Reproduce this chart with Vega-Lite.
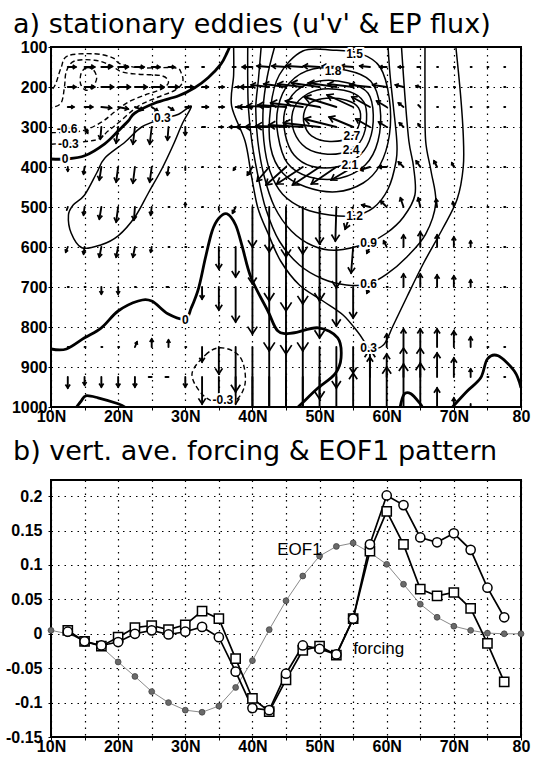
{
"$schema":"https://vega.github.io/schema/vega-lite/v6.json",
"background":"white",
"padding":{"left":4,"top":10,"right":5,"bottom":5},
"spacing":12,
"config":{
 "view":{"stroke":"black","strokeWidth":2},
 "axis":{"labelFont":"Liberation Sans","labelFontWeight":"bold","labelFontSize":16,"labelColor":"black","domain":false,"tickColor":"black","tickSize":3,"grid":true,"gridColor":"black","gridDash":[1.5,5],"gridWidth":1.2,"gridOpacity":1,"labelOverlap":false,"labelFlush":false,"labelSeparation":0,"tickCount":40},
 "title":{"font":"DejaVu Sans","fontSize":27,"fontWeight":"normal","anchor":"start","color":"black","frame":"group"}
},
"datasets":{
 "cont":[
{"id":"z1","lvl":0,"cl":0,"i":0,"lat":10,"p":380},{"id":"z1","lvl":0,"cl":0,"i":1,"lat":12.2,"p":380},{"id":"z1","lvl":0,"cl":0,"i":2,"lat":15,"p":372},{"id":"z1","lvl":0,"cl":0,"i":3,"lat":18,"p":342},{"id":"z1","lvl":0,"cl":0,"i":4,"lat":20,"p":310},{"id":"z1","lvl":0,"cl":0,"i":5,"lat":21.5,"p":285},{"id":"z1","lvl":0,"cl":0,"i":6,"lat":22.5,"p":265},{"id":"z1","lvl":0,"cl":0,"i":7,"lat":25.5,"p":240},{"id":"z1","lvl":0,"cl":0,"i":8,"lat":29,"p":222},{"id":"z1","lvl":0,"cl":0,"i":9,"lat":31.4,"p":202},{"id":"z1","lvl":0,"cl":0,"i":10,"lat":33.4,"p":177},{"id":"z1","lvl":0,"cl":0,"i":11,"lat":35.3,"p":143},{"id":"z1","lvl":0,"cl":0,"i":12,"lat":36.2,"p":115},{"id":"z1","lvl":0,"cl":0,"i":13,"lat":36.6,"p":100},
{"id":"z2","lvl":0,"cl":0,"i":0,"lat":10,"p":855},{"id":"z2","lvl":0,"cl":0,"i":1,"lat":12.3,"p":855},{"id":"z2","lvl":0,"cl":0,"i":2,"lat":15,"p":827},{"id":"z2","lvl":0,"cl":0,"i":3,"lat":17.5,"p":802},{"id":"z2","lvl":0,"cl":0,"i":4,"lat":20,"p":760},{"id":"z2","lvl":0,"cl":0,"i":5,"lat":23,"p":735},{"id":"z2","lvl":0,"cl":0,"i":6,"lat":25,"p":735},{"id":"z2","lvl":0,"cl":0,"i":7,"lat":27.4,"p":767},{"id":"z2","lvl":0,"cl":0,"i":8,"lat":30,"p":780},{"id":"z2","lvl":0,"cl":0,"i":9,"lat":30.9,"p":752},{"id":"z2","lvl":0,"cl":0,"i":10,"lat":32,"p":702},{"id":"z2","lvl":0,"cl":0,"i":11,"lat":33,"p":627},{"id":"z2","lvl":0,"cl":0,"i":12,"lat":34,"p":560},{"id":"z2","lvl":0,"cl":0,"i":13,"lat":35,"p":528},{"id":"z2","lvl":0,"cl":0,"i":14,"lat":36.2,"p":517},{"id":"z2","lvl":0,"cl":0,"i":15,"lat":37.5,"p":545},{"id":"z2","lvl":0,"cl":0,"i":16,"lat":38.5,"p":600},{"id":"z2","lvl":0,"cl":0,"i":17,"lat":39.8,"p":677},{"id":"z2","lvl":0,"cl":0,"i":18,"lat":42.3,"p":760},{"id":"z2","lvl":0,"cl":0,"i":19,"lat":43.8,"p":810},{"id":"z2","lvl":0,"cl":0,"i":20,"lat":46,"p":815},{"id":"z2","lvl":0,"cl":0,"i":21,"lat":49.8,"p":802},{"id":"z2","lvl":0,"cl":0,"i":22,"lat":52.7,"p":827},{"id":"z2","lvl":0,"cl":0,"i":23,"lat":53.2,"p":877},{"id":"z2","lvl":0,"cl":0,"i":24,"lat":52.3,"p":917},{"id":"z2","lvl":0,"cl":0,"i":25,"lat":49.8,"p":952},{"id":"z2","lvl":0,"cl":0,"i":26,"lat":47.3,"p":992},{"id":"z2","lvl":0,"cl":0,"i":27,"lat":46.8,"p":1000},
{"id":"z3","lvl":0,"cl":0,"i":0,"lat":13.8,"p":1000},{"id":"z3","lvl":0,"cl":0,"i":1,"lat":14.5,"p":985},{"id":"z3","lvl":0,"cl":0,"i":2,"lat":15.2,"p":972},{"id":"z3","lvl":0,"cl":0,"i":3,"lat":17,"p":977},{"id":"z3","lvl":0,"cl":0,"i":4,"lat":20,"p":992},{"id":"z3","lvl":0,"cl":0,"i":5,"lat":21,"p":1000},
{"id":"z4","lvl":0,"cl":0,"i":0,"lat":69.8,"p":1000},{"id":"z4","lvl":0,"cl":0,"i":1,"lat":72,"p":960},{"id":"z4","lvl":0,"cl":0,"i":2,"lat":74,"p":927},{"id":"z4","lvl":0,"cl":0,"i":3,"lat":75,"p":880},{"id":"z4","lvl":0,"cl":0,"i":4,"lat":76.6,"p":872},{"id":"z4","lvl":0,"cl":0,"i":5,"lat":79,"p":910},{"id":"z4","lvl":0,"cl":0,"i":6,"lat":80,"p":952},
{"id":"z5","lvl":0,"cl":0,"i":0,"lat":62,"p":1000},{"id":"z5","lvl":0,"cl":0,"i":1,"lat":62.6,"p":968},{"id":"z5","lvl":0,"cl":0,"i":2,"lat":63.6,"p":967},{"id":"z5","lvl":0,"cl":0,"i":3,"lat":65,"p":992},{"id":"z5","lvl":0,"cl":0,"i":4,"lat":65.3,"p":1000},
{"id":"n03","lvl":-0.3,"cl":0,"i":0,"lat":10,"p":343},{"id":"n03","lvl":-0.3,"cl":0,"i":1,"lat":16.5,"p":333},{"id":"n03","lvl":-0.3,"cl":0,"i":2,"lat":18.5,"p":310},{"id":"n03","lvl":-0.3,"cl":0,"i":3,"lat":20,"p":290},{"id":"n03","lvl":-0.3,"cl":0,"i":4,"lat":23,"p":248},{"id":"n03","lvl":-0.3,"cl":0,"i":5,"lat":26,"p":225},{"id":"n03","lvl":-0.3,"cl":0,"i":6,"lat":28.5,"p":208},{"id":"n03","lvl":-0.3,"cl":0,"i":7,"lat":29.6,"p":188},{"id":"n03","lvl":-0.3,"cl":0,"i":8,"lat":29.4,"p":165},{"id":"n03","lvl":-0.3,"cl":0,"i":9,"lat":28.4,"p":152},{"id":"n03","lvl":-0.3,"cl":0,"i":10,"lat":23.4,"p":152},{"id":"n03","lvl":-0.3,"cl":0,"i":11,"lat":20.3,"p":142},{"id":"n03","lvl":-0.3,"cl":0,"i":12,"lat":19.2,"p":127},{"id":"n03","lvl":-0.3,"cl":0,"i":13,"lat":16.5,"p":117},{"id":"n03","lvl":-0.3,"cl":0,"i":14,"lat":12.5,"p":122},{"id":"n03","lvl":-0.3,"cl":0,"i":15,"lat":11.5,"p":152},{"id":"n03","lvl":-0.3,"cl":0,"i":16,"lat":10.7,"p":192},{"id":"n03","lvl":-0.3,"cl":0,"i":17,"lat":10,"p":210},
{"id":"n06","lvl":-0.6,"cl":0,"i":0,"lat":10,"p":314},{"id":"n06","lvl":-0.6,"cl":0,"i":1,"lat":14.5,"p":310},{"id":"n06","lvl":-0.6,"cl":0,"i":2,"lat":17.5,"p":288},{"id":"n06","lvl":-0.6,"cl":0,"i":3,"lat":19.5,"p":262},{"id":"n06","lvl":-0.6,"cl":0,"i":4,"lat":21.5,"p":238},{"id":"n06","lvl":-0.6,"cl":0,"i":5,"lat":24,"p":220},{"id":"n06","lvl":-0.6,"cl":0,"i":6,"lat":26.5,"p":205},{"id":"n06","lvl":-0.6,"cl":0,"i":7,"lat":27.5,"p":188},{"id":"n06","lvl":-0.6,"cl":0,"i":8,"lat":26.5,"p":172},{"id":"n06","lvl":-0.6,"cl":0,"i":9,"lat":23,"p":168},{"id":"n06","lvl":-0.6,"cl":0,"i":10,"lat":20.5,"p":162},{"id":"n06","lvl":-0.6,"cl":0,"i":11,"lat":18.8,"p":145},{"id":"n06","lvl":-0.6,"cl":0,"i":12,"lat":16.5,"p":133},{"id":"n06","lvl":-0.6,"cl":0,"i":13,"lat":13.5,"p":135},{"id":"n06","lvl":-0.6,"cl":0,"i":14,"lat":12.3,"p":160},{"id":"n06","lvl":-0.6,"cl":0,"i":15,"lat":12,"p":200},{"id":"n06","lvl":-0.6,"cl":0,"i":16,"lat":11.5,"p":240},{"id":"n06","lvl":-0.6,"cl":0,"i":17,"lat":10,"p":252},
{"id":"n09","lvl":-0.9,"cl":1,"i":0,"lat":14.5,"p":165},{"id":"n09","lvl":-0.9,"cl":1,"i":1,"lat":15.3,"p":152},{"id":"n09","lvl":-0.9,"cl":1,"i":2,"lat":16.3,"p":157},{"id":"n09","lvl":-0.9,"cl":1,"i":3,"lat":16.8,"p":178},{"id":"n09","lvl":-0.9,"cl":1,"i":4,"lat":16.2,"p":200},{"id":"n09","lvl":-0.9,"cl":1,"i":5,"lat":15.2,"p":208},{"id":"n09","lvl":-0.9,"cl":1,"i":6,"lat":14.4,"p":192},
{"id":"n03b","lvl":-0.3,"cl":1,"i":0,"lat":31,"p":917},{"id":"n03b","lvl":-0.3,"cl":1,"i":1,"lat":33,"p":870},{"id":"n03b","lvl":-0.3,"cl":1,"i":2,"lat":35,"p":852},{"id":"n03b","lvl":-0.3,"cl":1,"i":3,"lat":37.3,"p":862},{"id":"n03b","lvl":-0.3,"cl":1,"i":4,"lat":38.6,"p":890},{"id":"n03b","lvl":-0.3,"cl":1,"i":5,"lat":38.9,"p":942},{"id":"n03b","lvl":-0.3,"cl":1,"i":6,"lat":37.6,"p":982},{"id":"n03b","lvl":-0.3,"cl":1,"i":7,"lat":35,"p":990},{"id":"n03b","lvl":-0.3,"cl":1,"i":8,"lat":32.5,"p":968},
{"id":"p03L","lvl":0.3,"cl":1,"i":0,"lat":30.9,"p":248},{"id":"p03L","lvl":0.3,"cl":1,"i":1,"lat":29.6,"p":290},{"id":"p03L","lvl":0.3,"cl":1,"i":2,"lat":28.2,"p":345},{"id":"p03L","lvl":0.3,"cl":1,"i":3,"lat":26.5,"p":405},{"id":"p03L","lvl":0.3,"cl":1,"i":4,"lat":24.5,"p":465},{"id":"p03L","lvl":0.3,"cl":1,"i":5,"lat":22.5,"p":525},{"id":"p03L","lvl":0.3,"cl":1,"i":6,"lat":20,"p":572},{"id":"p03L","lvl":0.3,"cl":1,"i":7,"lat":17.4,"p":595},{"id":"p03L","lvl":0.3,"cl":1,"i":8,"lat":14.6,"p":602},{"id":"p03L","lvl":0.3,"cl":1,"i":9,"lat":13,"p":565},{"id":"p03L","lvl":0.3,"cl":1,"i":10,"lat":12.6,"p":520},{"id":"p03L","lvl":0.3,"cl":1,"i":11,"lat":13.3,"p":495},{"id":"p03L","lvl":0.3,"cl":1,"i":12,"lat":15,"p":470},{"id":"p03L","lvl":0.3,"cl":1,"i":13,"lat":16.8,"p":415},{"id":"p03L","lvl":0.3,"cl":1,"i":14,"lat":18,"p":378},{"id":"p03L","lvl":0.3,"cl":1,"i":15,"lat":21,"p":338},{"id":"p03L","lvl":0.3,"cl":1,"i":16,"lat":23.5,"p":300},{"id":"p03L","lvl":0.3,"cl":1,"i":17,"lat":26.5,"p":280},{"id":"p03L","lvl":0.3,"cl":1,"i":18,"lat":29,"p":268},
{"id":"p03","lvl":0.3,"cl":0,"i":0,"lat":37.2,"p":100},{"id":"p03","lvl":0.3,"cl":0,"i":1,"lat":37.2,"p":170},{"id":"p03","lvl":0.3,"cl":0,"i":2,"lat":36.9,"p":247},{"id":"p03","lvl":0.3,"cl":0,"i":3,"lat":38.9,"p":335},{"id":"p03","lvl":0.3,"cl":0,"i":4,"lat":39.8,"p":417},{"id":"p03","lvl":0.3,"cl":0,"i":5,"lat":40.8,"p":502},{"id":"p03","lvl":0.3,"cl":0,"i":6,"lat":42.3,"p":565},{"id":"p03","lvl":0.3,"cl":0,"i":7,"lat":44.2,"p":635},{"id":"p03","lvl":0.3,"cl":0,"i":8,"lat":47,"p":695},{"id":"p03","lvl":0.3,"cl":0,"i":9,"lat":50.5,"p":735},{"id":"p03","lvl":0.3,"cl":0,"i":10,"lat":53.5,"p":770},{"id":"p03","lvl":0.3,"cl":0,"i":11,"lat":55.8,"p":815},{"id":"p03","lvl":0.3,"cl":0,"i":12,"lat":57.5,"p":852},{"id":"p03","lvl":0.3,"cl":0,"i":13,"lat":59.5,"p":845},{"id":"p03","lvl":0.3,"cl":0,"i":14,"lat":61,"p":795},{"id":"p03","lvl":0.3,"cl":0,"i":15,"lat":63,"p":725},{"id":"p03","lvl":0.3,"cl":0,"i":16,"lat":65.5,"p":640},{"id":"p03","lvl":0.3,"cl":0,"i":17,"lat":68.3,"p":555},{"id":"p03","lvl":0.3,"cl":0,"i":18,"lat":70.5,"p":480},{"id":"p03","lvl":0.3,"cl":0,"i":19,"lat":71.4,"p":400},{"id":"p03","lvl":0.3,"cl":0,"i":20,"lat":71.4,"p":320},{"id":"p03","lvl":0.3,"cl":0,"i":21,"lat":71,"p":220},{"id":"p03","lvl":0.3,"cl":0,"i":22,"lat":70.3,"p":100},
{"id":"p06","lvl":0.6,"cl":0,"i":0,"lat":39.3,"p":100},{"id":"p06","lvl":0.6,"cl":0,"i":1,"lat":39.3,"p":180},{"id":"p06","lvl":0.6,"cl":0,"i":2,"lat":39.4,"p":252},{"id":"p06","lvl":0.6,"cl":0,"i":3,"lat":39.9,"p":335},{"id":"p06","lvl":0.6,"cl":0,"i":4,"lat":40.8,"p":420},{"id":"p06","lvl":0.6,"cl":0,"i":5,"lat":42,"p":505},{"id":"p06","lvl":0.6,"cl":0,"i":6,"lat":44,"p":585},{"id":"p06","lvl":0.6,"cl":0,"i":7,"lat":47,"p":645},{"id":"p06","lvl":0.6,"cl":0,"i":8,"lat":50.5,"p":680},{"id":"p06","lvl":0.6,"cl":0,"i":9,"lat":54,"p":695},{"id":"p06","lvl":0.6,"cl":0,"i":10,"lat":57.2,"p":693},{"id":"p06","lvl":0.6,"cl":0,"i":11,"lat":60,"p":668},{"id":"p06","lvl":0.6,"cl":0,"i":12,"lat":63,"p":625},{"id":"p06","lvl":0.6,"cl":0,"i":13,"lat":65.8,"p":568},{"id":"p06","lvl":0.6,"cl":0,"i":14,"lat":67.3,"p":490},{"id":"p06","lvl":0.6,"cl":0,"i":15,"lat":66.6,"p":410},{"id":"p06","lvl":0.6,"cl":0,"i":16,"lat":65.8,"p":335},{"id":"p06","lvl":0.6,"cl":0,"i":17,"lat":65.7,"p":220},{"id":"p06","lvl":0.6,"cl":0,"i":18,"lat":65.7,"p":100},
{"id":"p09","lvl":0.9,"cl":0,"i":0,"lat":41.3,"p":100},{"id":"p09","lvl":0.9,"cl":0,"i":1,"lat":40.9,"p":180},{"id":"p09","lvl":0.9,"cl":0,"i":2,"lat":40.5,"p":252},{"id":"p09","lvl":0.9,"cl":0,"i":3,"lat":40.8,"p":335},{"id":"p09","lvl":0.9,"cl":0,"i":4,"lat":41.7,"p":420},{"id":"p09","lvl":0.9,"cl":0,"i":5,"lat":43.3,"p":500},{"id":"p09","lvl":0.9,"cl":0,"i":6,"lat":45.8,"p":560},{"id":"p09","lvl":0.9,"cl":0,"i":7,"lat":49,"p":597},{"id":"p09","lvl":0.9,"cl":0,"i":8,"lat":52.5,"p":608},{"id":"p09","lvl":0.9,"cl":0,"i":9,"lat":57.2,"p":590},{"id":"p09","lvl":0.9,"cl":0,"i":10,"lat":60,"p":565},{"id":"p09","lvl":0.9,"cl":0,"i":11,"lat":62.5,"p":525},{"id":"p09","lvl":0.9,"cl":0,"i":12,"lat":64.2,"p":470},{"id":"p09","lvl":0.9,"cl":0,"i":13,"lat":64,"p":400},{"id":"p09","lvl":0.9,"cl":0,"i":14,"lat":63.3,"p":335},{"id":"p09","lvl":0.9,"cl":0,"i":15,"lat":62.7,"p":220},{"id":"p09","lvl":0.9,"cl":0,"i":16,"lat":62.2,"p":100},
{"id":"p12","lvl":1.2,"cl":0,"i":0,"lat":43.3,"p":100},{"id":"p12","lvl":1.2,"cl":0,"i":1,"lat":42.2,"p":175},{"id":"p12","lvl":1.2,"cl":0,"i":2,"lat":41.6,"p":252},{"id":"p12","lvl":1.2,"cl":0,"i":3,"lat":41.7,"p":335},{"id":"p12","lvl":1.2,"cl":0,"i":4,"lat":42.6,"p":410},{"id":"p12","lvl":1.2,"cl":0,"i":5,"lat":44.5,"p":468},{"id":"p12","lvl":1.2,"cl":0,"i":6,"lat":47.8,"p":505},{"id":"p12","lvl":1.2,"cl":0,"i":7,"lat":51.5,"p":520},{"id":"p12","lvl":1.2,"cl":0,"i":8,"lat":55,"p":522},{"id":"p12","lvl":1.2,"cl":0,"i":9,"lat":58,"p":502},{"id":"p12","lvl":1.2,"cl":0,"i":10,"lat":60.2,"p":455},{"id":"p12","lvl":1.2,"cl":0,"i":11,"lat":61.4,"p":385},{"id":"p12","lvl":1.2,"cl":0,"i":12,"lat":61.5,"p":335},{"id":"p12","lvl":1.2,"cl":0,"i":13,"lat":61,"p":250},{"id":"p12","lvl":1.2,"cl":0,"i":14,"lat":60.5,"p":170},{"id":"p12","lvl":1.2,"cl":0,"i":15,"lat":60.2,"p":100},
{"id":"p15","lvl":1.5,"cl":1,"i":0,"lat":47.5,"p":110},{"id":"p15","lvl":1.5,"cl":1,"i":1,"lat":52,"p":108},{"id":"p15","lvl":1.5,"cl":1,"i":2,"lat":56,"p":116},{"id":"p15","lvl":1.5,"cl":1,"i":3,"lat":59,"p":150},{"id":"p15","lvl":1.5,"cl":1,"i":4,"lat":60.4,"p":230},{"id":"p15","lvl":1.5,"cl":1,"i":5,"lat":60.4,"p":320},{"id":"p15","lvl":1.5,"cl":1,"i":6,"lat":59,"p":395},{"id":"p15","lvl":1.5,"cl":1,"i":7,"lat":56.5,"p":440},{"id":"p15","lvl":1.5,"cl":1,"i":8,"lat":52.5,"p":462},{"id":"p15","lvl":1.5,"cl":1,"i":9,"lat":48,"p":450},{"id":"p15","lvl":1.5,"cl":1,"i":10,"lat":44.5,"p":415},{"id":"p15","lvl":1.5,"cl":1,"i":11,"lat":42.7,"p":350},{"id":"p15","lvl":1.5,"cl":1,"i":12,"lat":42.7,"p":252},{"id":"p15","lvl":1.5,"cl":1,"i":13,"lat":44,"p":170},
{"id":"p18","lvl":1.8,"cl":1,"i":0,"lat":49,"p":155},{"id":"p18","lvl":1.8,"cl":1,"i":1,"lat":54,"p":158},{"id":"p18","lvl":1.8,"cl":1,"i":2,"lat":57.6,"p":185},{"id":"p18","lvl":1.8,"cl":1,"i":3,"lat":59,"p":250},{"id":"p18","lvl":1.8,"cl":1,"i":4,"lat":58.7,"p":335},{"id":"p18","lvl":1.8,"cl":1,"i":5,"lat":56.8,"p":395},{"id":"p18","lvl":1.8,"cl":1,"i":6,"lat":53,"p":428},{"id":"p18","lvl":1.8,"cl":1,"i":7,"lat":48.5,"p":425},{"id":"p18","lvl":1.8,"cl":1,"i":8,"lat":45.2,"p":390},{"id":"p18","lvl":1.8,"cl":1,"i":9,"lat":43.8,"p":320},{"id":"p18","lvl":1.8,"cl":1,"i":10,"lat":43.8,"p":252},{"id":"p18","lvl":1.8,"cl":1,"i":11,"lat":45.5,"p":190},
{"id":"p21","lvl":2.1,"cl":1,"i":0,"lat":50,"p":185},{"id":"p21","lvl":2.1,"cl":1,"i":1,"lat":54.3,"p":190},{"id":"p21","lvl":2.1,"cl":1,"i":2,"lat":57.2,"p":215},{"id":"p21","lvl":2.1,"cl":1,"i":3,"lat":58,"p":270},{"id":"p21","lvl":2.1,"cl":1,"i":4,"lat":57.4,"p":335},{"id":"p21","lvl":2.1,"cl":1,"i":5,"lat":55.5,"p":378},{"id":"p21","lvl":2.1,"cl":1,"i":6,"lat":52.5,"p":400},{"id":"p21","lvl":2.1,"cl":1,"i":7,"lat":48.8,"p":398},{"id":"p21","lvl":2.1,"cl":1,"i":8,"lat":46.2,"p":370},{"id":"p21","lvl":2.1,"cl":1,"i":9,"lat":44.9,"p":320},{"id":"p21","lvl":2.1,"cl":1,"i":10,"lat":44.8,"p":262},{"id":"p21","lvl":2.1,"cl":1,"i":11,"lat":46.5,"p":210},
{"id":"p24","lvl":2.4,"cl":1,"i":0,"lat":50.5,"p":205},{"id":"p24","lvl":2.4,"cl":1,"i":1,"lat":54.5,"p":212},{"id":"p24","lvl":2.4,"cl":1,"i":2,"lat":56.6,"p":238},{"id":"p24","lvl":2.4,"cl":1,"i":3,"lat":57,"p":282},{"id":"p24","lvl":2.4,"cl":1,"i":4,"lat":56.3,"p":330},{"id":"p24","lvl":2.4,"cl":1,"i":5,"lat":54.6,"p":358},{"id":"p24","lvl":2.4,"cl":1,"i":6,"lat":51.2,"p":368},{"id":"p24","lvl":2.4,"cl":1,"i":7,"lat":48,"p":352},{"id":"p24","lvl":2.4,"cl":1,"i":8,"lat":46.2,"p":312},{"id":"p24","lvl":2.4,"cl":1,"i":9,"lat":46,"p":262},{"id":"p24","lvl":2.4,"cl":1,"i":10,"lat":47.5,"p":225},
{"id":"p27","lvl":2.7,"cl":1,"i":0,"lat":51,"p":228},{"id":"p27","lvl":2.7,"cl":1,"i":1,"lat":54,"p":233},{"id":"p27","lvl":2.7,"cl":1,"i":2,"lat":55.8,"p":252},{"id":"p27","lvl":2.7,"cl":1,"i":3,"lat":56,"p":287},{"id":"p27","lvl":2.7,"cl":1,"i":4,"lat":54.7,"p":325},{"id":"p27","lvl":2.7,"cl":1,"i":5,"lat":51.5,"p":336},{"id":"p27","lvl":2.7,"cl":1,"i":6,"lat":48.8,"p":322},{"id":"p27","lvl":2.7,"cl":1,"i":7,"lat":47.7,"p":292},{"id":"p27","lvl":2.7,"cl":1,"i":8,"lat":47.8,"p":258},{"id":"p27","lvl":2.7,"cl":1,"i":9,"lat":48.8,"p":238}
 ],
 "clab":[
{"t":"1.5","lat":55.2,"p":118},{"t":"1.8","lat":52,"p":160},{"t":"2.7","lat":54.8,"p":322},{"t":"2.4","lat":54.7,"p":358},{"t":"2.1","lat":54.5,"p":394},{"t":"1.2","lat":55.2,"p":522},{"t":"0.9","lat":57.3,"p":590},{"t":"0.6","lat":57.3,"p":693},{"t":"0.3","lat":57.3,"p":852},{"t":"0","lat":12.1,"p":379},{"t":"-0.3","lat":12.6,"p":342},{"t":"-0.6","lat":12.4,"p":306},{"t":"0.3","lat":26.6,"p":277},{"t":"0","lat":30,"p":782},{"t":"-0.3","lat":35.6,"p":982}
 ],
 "vec":[
{"lat":12.5,"p":150,"lat2":13.69,"p2":150,"dir":90,"mag":8},{"lat":15,"p":150,"lat2":16.49,"p2":150,"dir":90,"mag":10},{"lat":17.5,"p":150,"lat2":18.99,"p2":150,"dir":90,"mag":10},{"lat":20,"p":150,"lat2":21.49,"p2":150,"dir":90,"mag":10},{"lat":22.5,"p":150,"lat2":23.84,"p2":150,"dir":90,"mag":9},{"lat":25,"p":150,"lat2":26.19,"p2":150,"dir":90,"mag":8},{"lat":27.5,"p":150,"lat2":28.39,"p2":150,"dir":90,"mag":6},{"lat":30,"p":150,"lat2":30.45,"p2":150,"dir":90,"mag":3},{"lat":32.5,"p":150,"lat2":32.8,"p2":150,"dir":90,"mag":2},{"lat":35,"p":150,"lat2":35.15,"p2":150,"dir":90,"mag":1},{"lat":37.5,"p":150,"lat2":37.05,"p2":150,"dir":270,"mag":3},{"lat":40,"p":150,"lat2":38.51,"p2":150,"dir":270,"mag":10},{"lat":42.5,"p":150,"lat2":40.71,"p2":147.5,"dir":275,"mag":12},{"lat":45,"p":150,"lat2":42.92,"p2":147.5,"dir":274,"mag":14},{"lat":47.5,"p":150,"lat2":45.12,"p2":147.5,"dir":274,"mag":16},{"lat":50,"p":150,"lat2":47.62,"p2":147.5,"dir":274,"mag":16},{"lat":52.5,"p":150,"lat2":50.42,"p2":147.5,"dir":274,"mag":14},{"lat":55,"p":150,"lat2":53.21,"p2":147.5,"dir":275,"mag":12},{"lat":57.5,"p":150,"lat2":56.01,"p2":147.5,"dir":276,"mag":10},{"lat":60,"p":150,"lat2":58.96,"p2":150,"dir":270,"mag":7},{"lat":62.5,"p":150,"lat2":61.76,"p2":150,"dir":270,"mag":5},{"lat":65,"p":150,"lat2":64.55,"p2":150,"dir":270,"mag":3},{"lat":67.5,"p":150,"lat2":67.65,"p2":150,"dir":90,"mag":1},{"lat":70,"p":150,"lat2":70.15,"p2":150,"dir":90,"mag":1},{"lat":72.5,"p":150,"lat2":72.65,"p2":150,"dir":90,"mag":1},{"lat":75,"p":150,"lat2":75.15,"p2":150,"dir":90,"mag":1},{"lat":77.5,"p":150,"lat2":77.65,"p2":150,"dir":90,"mag":1},
{"lat":12.5,"p":200,"lat2":13.69,"p2":200,"dir":90,"mag":8},{"lat":15,"p":200,"lat2":16.49,"p2":200,"dir":90,"mag":10},{"lat":17.5,"p":200,"lat2":19.29,"p2":200,"dir":90,"mag":12},{"lat":20,"p":200,"lat2":21.79,"p2":200,"dir":90,"mag":12},{"lat":22.5,"p":200,"lat2":24.29,"p2":200,"dir":90,"mag":12},{"lat":25,"p":200,"lat2":26.79,"p2":200,"dir":90,"mag":12},{"lat":27.5,"p":200,"lat2":28.99,"p2":200,"dir":90,"mag":10},{"lat":30,"p":200,"lat2":31.19,"p2":200,"dir":90,"mag":8},{"lat":32.5,"p":200,"lat2":33.39,"p2":200,"dir":90,"mag":6},{"lat":35,"p":200,"lat2":35.74,"p2":200,"dir":90,"mag":5},{"lat":37.5,"p":200,"lat2":38.1,"p2":200,"dir":90,"mag":4},{"lat":40,"p":200,"lat2":38.21,"p2":200,"dir":270,"mag":12},{"lat":42.5,"p":200,"lat2":39.82,"p2":195,"dir":276,"mag":18},{"lat":45,"p":200,"lat2":41.72,"p2":192.5,"dir":278,"mag":22},{"lat":47.5,"p":200,"lat2":43.78,"p2":192.5,"dir":277,"mag":25},{"lat":50,"p":200,"lat2":45.83,"p2":190,"dir":278,"mag":28},{"lat":52.5,"p":200,"lat2":48.33,"p2":190,"dir":278,"mag":28},{"lat":55,"p":200,"lat2":51.28,"p2":192.5,"dir":277,"mag":25},{"lat":57.5,"p":200,"lat2":54.52,"p2":195,"dir":276,"mag":20},{"lat":60,"p":200,"lat2":57.92,"p2":195,"dir":278,"mag":14},{"lat":62.5,"p":200,"lat2":61.31,"p2":195,"dir":284,"mag":8},{"lat":65,"p":200,"lat2":64.4,"p2":197.5,"dir":284,"mag":4},{"lat":67.5,"p":200,"lat2":67.2,"p2":200,"dir":270,"mag":2},{"lat":70,"p":200,"lat2":70.15,"p2":200,"dir":90,"mag":1},{"lat":72.5,"p":200,"lat2":72.65,"p2":200,"dir":90,"mag":1},{"lat":75,"p":200,"lat2":75.15,"p2":200,"dir":90,"mag":1},{"lat":77.5,"p":200,"lat2":77.65,"p2":200,"dir":90,"mag":1},
{"lat":12.5,"p":250,"lat2":13.39,"p2":250,"dir":90,"mag":6},{"lat":15,"p":250,"lat2":16.19,"p2":250,"dir":90,"mag":8},{"lat":17.5,"p":250,"lat2":18.99,"p2":252.5,"dir":96,"mag":10},{"lat":20,"p":250,"lat2":21.49,"p2":255,"dir":101,"mag":10},{"lat":22.5,"p":250,"lat2":23.69,"p2":257.5,"dir":111,"mag":9},{"lat":25,"p":250,"lat2":25.89,"p2":260,"dir":124,"mag":7},{"lat":27.5,"p":250,"lat2":28.24,"p2":257.5,"dir":121,"mag":6},{"lat":30,"p":250,"lat2":30.74,"p2":250,"dir":90,"mag":5},{"lat":32.5,"p":250,"lat2":33.39,"p2":250,"dir":90,"mag":6},{"lat":35,"p":250,"lat2":35.74,"p2":250,"dir":90,"mag":5},{"lat":37.5,"p":250,"lat2":38.1,"p2":250,"dir":90,"mag":4},{"lat":40,"p":250,"lat2":37.92,"p2":250,"dir":270,"mag":14},{"lat":42.5,"p":250,"lat2":39.22,"p2":247.5,"dir":273,"mag":22},{"lat":45,"p":250,"lat2":40.83,"p2":245,"dir":274,"mag":28},{"lat":47.5,"p":250,"lat2":42.74,"p2":240,"dir":277,"mag":32},{"lat":50,"p":250,"lat2":44.94,"p2":235,"dir":280,"mag":35},{"lat":52.5,"p":250,"lat2":47.74,"p2":225,"dir":287,"mag":34},{"lat":55,"p":250,"lat2":51.13,"p2":220,"dir":295,"mag":29},{"lat":57.5,"p":250,"lat2":54.82,"p2":225,"dir":299,"mag":21},{"lat":60,"p":250,"lat2":58.51,"p2":235,"dir":301,"mag":12},{"lat":62.5,"p":250,"lat2":61.76,"p2":240,"dir":309,"mag":6},{"lat":65,"p":250,"lat2":64.7,"p2":245,"dir":315,"mag":3},{"lat":67.5,"p":250,"lat2":67.65,"p2":250,"dir":90,"mag":1},{"lat":70,"p":250,"lat2":70.15,"p2":250,"dir":90,"mag":1},{"lat":72.5,"p":250,"lat2":72.65,"p2":250,"dir":90,"mag":1},{"lat":75,"p":250,"lat2":75.15,"p2":250,"dir":90,"mag":1},{"lat":77.5,"p":250,"lat2":77.65,"p2":250,"dir":90,"mag":1},
{"lat":12.5,"p":300,"lat2":12.8,"p2":307.5,"dir":146,"mag":4},{"lat":15,"p":300,"lat2":15.45,"p2":315,"dir":153,"mag":7},{"lat":17.5,"p":300,"lat2":17.35,"p2":330,"dir":185,"mag":12},{"lat":20,"p":300,"lat2":19.7,"p2":340,"dir":187,"mag":16},{"lat":22.5,"p":300,"lat2":22.2,"p2":342.5,"dir":187,"mag":17},{"lat":25,"p":300,"lat2":24.7,"p2":342.5,"dir":187,"mag":17},{"lat":27.5,"p":300,"lat2":27.35,"p2":332.5,"dir":184,"mag":13},{"lat":30,"p":300,"lat2":30,"p2":320,"dir":180,"mag":8},{"lat":32.5,"p":300,"lat2":32.95,"p2":300,"dir":90,"mag":3},{"lat":35,"p":300,"lat2":35.6,"p2":300,"dir":90,"mag":4},{"lat":37.5,"p":300,"lat2":36.61,"p2":300,"dir":270,"mag":6},{"lat":40,"p":300,"lat2":37.62,"p2":300,"dir":270,"mag":16},{"lat":42.5,"p":300,"lat2":38.93,"p2":300,"dir":270,"mag":24},{"lat":45,"p":300,"lat2":40.53,"p2":297.5,"dir":272,"mag":30},{"lat":47.5,"p":300,"lat2":42.44,"p2":295,"dir":273,"mag":34},{"lat":50,"p":300,"lat2":44.64,"p2":290,"dir":276,"mag":36},{"lat":52.5,"p":300,"lat2":47.74,"p2":280,"dir":284,"mag":33},{"lat":55,"p":300,"lat2":51.43,"p2":275,"dir":293,"mag":26},{"lat":57.5,"p":300,"lat2":55.42,"p2":280,"dir":300,"mag":16},{"lat":60,"p":300,"lat2":58.81,"p2":287.5,"dir":302,"mag":9},{"lat":62.5,"p":300,"lat2":61.9,"p2":290,"dir":315,"mag":6},{"lat":65,"p":300,"lat2":64.7,"p2":292.5,"dir":326,"mag":4},{"lat":67.5,"p":300,"lat2":67.65,"p2":300,"dir":90,"mag":1},{"lat":70,"p":300,"lat2":70.15,"p2":300,"dir":90,"mag":1},{"lat":72.5,"p":300,"lat2":72.65,"p2":300,"dir":90,"mag":1},{"lat":75,"p":300,"lat2":75.15,"p2":300,"dir":90,"mag":1},{"lat":77.5,"p":300,"lat2":77.65,"p2":300,"dir":90,"mag":1},
{"lat":12.5,"p":400,"lat2":12.5,"p2":410,"dir":180,"mag":4},{"lat":15,"p":400,"lat2":14.85,"p2":417.5,"dir":188,"mag":7},{"lat":17.5,"p":400,"lat2":17.2,"p2":432.5,"dir":189,"mag":13},{"lat":20,"p":400,"lat2":19.7,"p2":437.5,"dir":188,"mag":15},{"lat":22.5,"p":400,"lat2":22.2,"p2":440,"dir":187,"mag":16},{"lat":25,"p":400,"lat2":24.7,"p2":437.5,"dir":188,"mag":15},{"lat":27.5,"p":400,"lat2":27.35,"p2":420,"dir":187,"mag":8},{"lat":30,"p":400,"lat2":30,"p2":407.5,"dir":180,"mag":3},{"lat":32.5,"p":400,"lat2":32.65,"p2":400,"dir":90,"mag":1},{"lat":35,"p":400,"lat2":35.15,"p2":400,"dir":90,"mag":1},{"lat":37.5,"p":400,"lat2":37.2,"p2":407.5,"dir":214,"mag":4},{"lat":40,"p":400,"lat2":39.26,"p2":420,"dir":212,"mag":9},{"lat":42.5,"p":400,"lat2":40.71,"p2":435,"dir":221,"mag":18},{"lat":45,"p":400,"lat2":42.02,"p2":445,"dir":228,"mag":27},{"lat":47.5,"p":400,"lat2":43.63,"p2":442.5,"dir":237,"mag":31},{"lat":50,"p":400,"lat2":45.98,"p2":445,"dir":236,"mag":32},{"lat":52.5,"p":400,"lat2":48.78,"p2":442.5,"dir":236,"mag":30},{"lat":55,"p":400,"lat2":51.72,"p2":432.5,"dir":239,"mag":26},{"lat":57.5,"p":400,"lat2":56.01,"p2":407.5,"dir":253,"mag":10},{"lat":60,"p":400,"lat2":58.81,"p2":400,"dir":270,"mag":8},{"lat":62.5,"p":400,"lat2":61.76,"p2":387.5,"dir":315,"mag":7},{"lat":65,"p":400,"lat2":64.4,"p2":385,"dir":326,"mag":7},{"lat":67.5,"p":400,"lat2":67.05,"p2":385,"dir":333,"mag":7},{"lat":70,"p":400,"lat2":69.7,"p2":390,"dir":333,"mag":4},{"lat":72.5,"p":400,"lat2":72.65,"p2":400,"dir":90,"mag":1},{"lat":75,"p":400,"lat2":75.15,"p2":400,"dir":90,"mag":1},{"lat":77.5,"p":400,"lat2":77.65,"p2":400,"dir":90,"mag":1},
{"lat":12.5,"p":500,"lat2":12.35,"p2":507.5,"dir":198,"mag":3},{"lat":15,"p":500,"lat2":14.85,"p2":520,"dir":187,"mag":8},{"lat":17.5,"p":500,"lat2":17.2,"p2":530,"dir":189,"mag":12},{"lat":20,"p":500,"lat2":19.7,"p2":537.5,"dir":188,"mag":15},{"lat":22.5,"p":500,"lat2":22.35,"p2":532.5,"dir":184,"mag":13},{"lat":25,"p":500,"lat2":24.85,"p2":520,"dir":187,"mag":8},{"lat":27.5,"p":500,"lat2":27.65,"p2":500,"dir":90,"mag":1},{"lat":30,"p":500,"lat2":30,"p2":490,"dir":0,"mag":4},{"lat":32.5,"p":500,"lat2":32.65,"p2":500,"dir":90,"mag":1},{"lat":35,"p":500,"lat2":35,"p2":507.5,"dir":180,"mag":3},{"lat":37.5,"p":500,"lat2":37.05,"p2":515,"dir":207,"mag":7},{"lat":40,"p":500,"lat2":40,"p2":600,"dir":180,"mag":40},{"lat":42.5,"p":500,"lat2":42.5,"p2":612.5,"dir":180,"mag":45},{"lat":45,"p":500,"lat2":45,"p2":625,"dir":180,"mag":50},{"lat":47.5,"p":500,"lat2":47.5,"p2":617.5,"dir":180,"mag":47},{"lat":50,"p":500,"lat2":50,"p2":592.5,"dir":180,"mag":37},{"lat":52.5,"p":500,"lat2":52.35,"p2":585,"dir":182,"mag":34},{"lat":55,"p":500,"lat2":53.81,"p2":555,"dir":200,"mag":23},{"lat":57.5,"p":500,"lat2":56.31,"p2":495,"dir":284,"mag":8},{"lat":60,"p":500,"lat2":59.11,"p2":485,"dir":315,"mag":8},{"lat":62.5,"p":500,"lat2":62.05,"p2":477.5,"dir":342,"mag":9},{"lat":65,"p":500,"lat2":64.7,"p2":477.5,"dir":347,"mag":9},{"lat":67.5,"p":500,"lat2":67.35,"p2":480,"dir":353,"mag":8},{"lat":70,"p":500,"lat2":69.85,"p2":487.5,"dir":349,"mag":5},{"lat":72.5,"p":500,"lat2":72.65,"p2":500,"dir":90,"mag":1},{"lat":75,"p":500,"lat2":75.15,"p2":500,"dir":90,"mag":1},{"lat":77.5,"p":500,"lat2":77.65,"p2":500,"dir":90,"mag":1},
{"lat":12.5,"p":600,"lat2":12.2,"p2":612.5,"dir":202,"mag":5},{"lat":15,"p":600,"lat2":14.85,"p2":617.5,"dir":188,"mag":7},{"lat":17.5,"p":600,"lat2":17.2,"p2":625,"dir":191,"mag":10},{"lat":20,"p":600,"lat2":19.7,"p2":625,"dir":191,"mag":10},{"lat":22.5,"p":600,"lat2":22.2,"p2":625,"dir":191,"mag":10},{"lat":25,"p":600,"lat2":24.85,"p2":612.5,"dir":191,"mag":5},{"lat":27.5,"p":600,"lat2":27.65,"p2":600,"dir":90,"mag":1},{"lat":30,"p":600,"lat2":30.15,"p2":600,"dir":90,"mag":1},{"lat":32.5,"p":600,"lat2":32.65,"p2":600,"dir":90,"mag":1},{"lat":35,"p":600,"lat2":35,"p2":655,"dir":180,"mag":22},{"lat":37.5,"p":600,"lat2":37.5,"p2":675,"dir":180,"mag":30},{"lat":40,"p":600,"lat2":40,"p2":692.5,"dir":180,"mag":37},{"lat":42.5,"p":600,"lat2":42.5,"p2":735,"dir":180,"mag":54},{"lat":45,"p":600,"lat2":45,"p2":760,"dir":180,"mag":64},{"lat":47.5,"p":600,"lat2":47.5,"p2":742.5,"dir":180,"mag":57},{"lat":50,"p":600,"lat2":50,"p2":735,"dir":180,"mag":54},{"lat":52.5,"p":600,"lat2":52.5,"p2":702.5,"dir":180,"mag":41},{"lat":55,"p":600,"lat2":54.7,"p2":665,"dir":184,"mag":26},{"lat":57.5,"p":600,"lat2":57.05,"p2":615,"dir":207,"mag":7},{"lat":60,"p":600,"lat2":59.55,"p2":585,"dir":333,"mag":7},{"lat":62.5,"p":600,"lat2":62.5,"p2":570,"dir":0,"mag":12},{"lat":65,"p":600,"lat2":65,"p2":562.5,"dir":0,"mag":15},{"lat":67.5,"p":600,"lat2":67.5,"p2":570,"dir":0,"mag":12},{"lat":70,"p":600,"lat2":70,"p2":575,"dir":0,"mag":10},{"lat":72.5,"p":600,"lat2":72.5,"p2":585,"dir":0,"mag":6},{"lat":75,"p":600,"lat2":75.15,"p2":600,"dir":90,"mag":1},{"lat":77.5,"p":600,"lat2":77.65,"p2":600,"dir":90,"mag":1},
{"lat":12.5,"p":700,"lat2":12.65,"p2":700,"dir":90,"mag":1},{"lat":15,"p":700,"lat2":15.15,"p2":700,"dir":90,"mag":1},{"lat":17.5,"p":700,"lat2":17.5,"p2":717.5,"dir":180,"mag":7},{"lat":20,"p":700,"lat2":20,"p2":717.5,"dir":180,"mag":7},{"lat":22.5,"p":700,"lat2":22.65,"p2":700,"dir":90,"mag":1},{"lat":25,"p":700,"lat2":25.15,"p2":700,"dir":90,"mag":1},{"lat":27.5,"p":700,"lat2":27.2,"p2":700,"dir":270,"mag":2},{"lat":30,"p":700,"lat2":30.15,"p2":700,"dir":90,"mag":1},{"lat":32.5,"p":700,"lat2":32.5,"p2":730,"dir":180,"mag":12},{"lat":35,"p":700,"lat2":35,"p2":757.5,"dir":180,"mag":23},{"lat":37.5,"p":700,"lat2":37.5,"p2":787.5,"dir":180,"mag":35},{"lat":40,"p":700,"lat2":40,"p2":817.5,"dir":180,"mag":47},{"lat":42.5,"p":700,"lat2":42.5,"p2":860,"dir":180,"mag":64},{"lat":45,"p":700,"lat2":45,"p2":867.5,"dir":180,"mag":67},{"lat":47.5,"p":700,"lat2":47.5,"p2":860,"dir":180,"mag":64},{"lat":50,"p":700,"lat2":50,"p2":827.5,"dir":180,"mag":51},{"lat":52.5,"p":700,"lat2":52.5,"p2":797.5,"dir":180,"mag":39},{"lat":55,"p":700,"lat2":55,"p2":777.5,"dir":180,"mag":31},{"lat":57.5,"p":700,"lat2":57.05,"p2":715,"dir":207,"mag":7},{"lat":60,"p":700,"lat2":60.15,"p2":700,"dir":90,"mag":1},{"lat":62.5,"p":700,"lat2":62.5,"p2":667.5,"dir":0,"mag":13},{"lat":65,"p":700,"lat2":65,"p2":667.5,"dir":0,"mag":13},{"lat":67.5,"p":700,"lat2":67.5,"p2":670,"dir":0,"mag":12},{"lat":70,"p":700,"lat2":70,"p2":672.5,"dir":0,"mag":11},{"lat":72.5,"p":700,"lat2":72.5,"p2":682.5,"dir":0,"mag":7},{"lat":75,"p":700,"lat2":75.15,"p2":700,"dir":90,"mag":1},{"lat":77.5,"p":700,"lat2":77.65,"p2":700,"dir":90,"mag":1},
{"lat":12.5,"p":850,"lat2":12.65,"p2":850,"dir":90,"mag":1},{"lat":15,"p":850,"lat2":15.15,"p2":850,"dir":90,"mag":1},{"lat":17.5,"p":850,"lat2":17.65,"p2":850,"dir":90,"mag":1},{"lat":20,"p":850,"lat2":20.15,"p2":850,"dir":90,"mag":1},{"lat":22.5,"p":850,"lat2":22.8,"p2":837.5,"dir":22,"mag":5},{"lat":25,"p":850,"lat2":25,"p2":830,"dir":0,"mag":8},{"lat":27.5,"p":850,"lat2":27.5,"p2":832.5,"dir":0,"mag":7},{"lat":30,"p":850,"lat2":30.15,"p2":850,"dir":90,"mag":1},{"lat":32.5,"p":850,"lat2":32.5,"p2":887.5,"dir":180,"mag":15},{"lat":35,"p":850,"lat2":35,"p2":917.5,"dir":180,"mag":27},{"lat":37.5,"p":850,"lat2":37.5,"p2":962.5,"dir":180,"mag":45},{"lat":40,"p":850,"lat2":40,"p2":1025,"dir":180,"mag":70},{"lat":42.5,"p":850,"lat2":42.5,"p2":1050,"dir":180,"mag":80},{"lat":45,"p":850,"lat2":45,"p2":1062.5,"dir":180,"mag":85},{"lat":47.5,"p":850,"lat2":47.5,"p2":1050,"dir":180,"mag":80},{"lat":50,"p":850,"lat2":50,"p2":980,"dir":180,"mag":52},{"lat":52.5,"p":850,"lat2":52.5,"p2":952.5,"dir":180,"mag":41},{"lat":55,"p":850,"lat2":55,"p2":915,"dir":180,"mag":26},{"lat":57.5,"p":850,"lat2":57.65,"p2":850,"dir":90,"mag":1},{"lat":60,"p":850,"lat2":60,"p2":817.5,"dir":0,"mag":13},{"lat":62.5,"p":850,"lat2":62.5,"p2":805,"dir":0,"mag":18},{"lat":65,"p":850,"lat2":65,"p2":805,"dir":0,"mag":18},{"lat":67.5,"p":850,"lat2":67.5,"p2":805,"dir":0,"mag":18},{"lat":70,"p":850,"lat2":70,"p2":810,"dir":0,"mag":16},{"lat":72.5,"p":850,"lat2":72.5,"p2":825,"dir":0,"mag":10},{"lat":75,"p":850,"lat2":75.15,"p2":850,"dir":90,"mag":1},{"lat":77.5,"p":850,"lat2":77.65,"p2":850,"dir":90,"mag":1},
{"lat":12.5,"p":925,"lat2":12.5,"p2":952.5,"dir":180,"mag":11},{"lat":15,"p":925,"lat2":15,"p2":945,"dir":180,"mag":8},{"lat":17.5,"p":925,"lat2":17.5,"p2":950,"dir":180,"mag":10},{"lat":20,"p":925,"lat2":20,"p2":950,"dir":180,"mag":10},{"lat":22.5,"p":925,"lat2":22.5,"p2":950,"dir":180,"mag":10},{"lat":25,"p":925,"lat2":24.55,"p2":925,"dir":270,"mag":3},{"lat":27.5,"p":925,"lat2":27.05,"p2":925,"dir":270,"mag":3},{"lat":30,"p":925,"lat2":30,"p2":950,"dir":180,"mag":10},{"lat":32.5,"p":925,"lat2":32.5,"p2":992.5,"dir":180,"mag":27},{"lat":35,"p":925,"lat2":35,"p2":995,"dir":180,"mag":28},{"lat":37.5,"p":925,"lat2":37.5,"p2":992.5,"dir":180,"mag":27},{"lat":40,"p":925,"lat2":40,"p2":1075,"dir":180,"mag":60},{"lat":42.5,"p":925,"lat2":42.5,"p2":1075,"dir":180,"mag":60},{"lat":45,"p":925,"lat2":45,"p2":1075,"dir":180,"mag":60},{"lat":47.5,"p":925,"lat2":47.5,"p2":1075,"dir":180,"mag":60},{"lat":50,"p":925,"lat2":50,"p2":1050,"dir":180,"mag":50},{"lat":52.5,"p":925,"lat2":52.5,"p2":1025,"dir":180,"mag":40},{"lat":57.5,"p":925,"lat2":57.5,"p2":875,"dir":0,"mag":20},{"lat":60,"p":925,"lat2":60,"p2":867.5,"dir":0,"mag":23},{"lat":62.5,"p":925,"lat2":62.5,"p2":852.5,"dir":0,"mag":29},{"lat":65,"p":925,"lat2":65,"p2":852.5,"dir":0,"mag":29},{"lat":67.5,"p":925,"lat2":67.5,"p2":865,"dir":0,"mag":24},{"lat":70,"p":925,"lat2":70,"p2":877.5,"dir":0,"mag":19},{"lat":72.5,"p":925,"lat2":72.5,"p2":905,"dir":0,"mag":8},{"lat":75,"p":925,"lat2":75.15,"p2":925,"dir":90,"mag":1},{"lat":77.5,"p":925,"lat2":77.65,"p2":925,"dir":90,"mag":1},
{"lat":55,"p":1000,"lat2":55,"p2":915,"dir":0,"mag":34},{"lat":57.5,"p":1000,"lat2":57.5,"p2":855,"dir":0,"mag":58},{"lat":60,"p":1000,"lat2":60,"p2":900,"dir":0,"mag":40},{"lat":62.5,"p":1000,"lat2":62.5,"p2":892.5,"dir":0,"mag":43},{"lat":65,"p":1000,"lat2":65,"p2":890,"dir":0,"mag":44},{"lat":67.5,"p":1000,"lat2":67.5,"p2":952.5,"dir":0,"mag":19},{"lat":70,"p":1000,"lat2":70,"p2":977.5,"dir":0,"mag":9},{"lat":72.5,"p":1000,"lat2":72.5,"p2":992.5,"dir":0,"mag":3}
 ],
 "ser":[
{"lat":10,"v":0.005,"s":"g"},{"lat":12.5,"v":0.0,"s":"g"},{"lat":15,"v":-0.01,"s":"g"},{"lat":17.5,"v":-0.019,"s":"g"},{"lat":20,"v":-0.041,"s":"g"},{"lat":22.5,"v":-0.062,"s":"g"},{"lat":25,"v":-0.084,"s":"g"},{"lat":27.5,"v":-0.1,"s":"g"},{"lat":30,"v":-0.111,"s":"g"},{"lat":32.5,"v":-0.114,"s":"g"},{"lat":35,"v":-0.105,"s":"g"},{"lat":37.5,"v":-0.078,"s":"g"},{"lat":40,"v":-0.039,"s":"g"},{"lat":42.5,"v":0.006,"s":"g"},{"lat":45,"v":0.048,"s":"g"},{"lat":47.5,"v":0.084,"s":"g"},{"lat":50,"v":0.113,"s":"g"},{"lat":52.5,"v":0.127,"s":"g"},{"lat":55,"v":0.132,"s":"g"},{"lat":57.5,"v":0.118,"s":"g"},{"lat":60,"v":0.101,"s":"g"},{"lat":62.5,"v":0.072,"s":"g"},{"lat":65,"v":0.043,"s":"g"},{"lat":67.5,"v":0.024,"s":"g"},{"lat":70,"v":0.011,"s":"g"},{"lat":72.5,"v":0.005,"s":"g"},{"lat":75,"v":0.001,"s":"g"},{"lat":77.5,"v":0.0,"s":"g"},{"lat":80,"v":0.0,"s":"g"},
{"lat":12.5,"v":0.005,"s":"f"},{"lat":15,"v":-0.011,"s":"f"},{"lat":17.5,"v":-0.018,"s":"f"},{"lat":20,"v":-0.005,"s":"f"},{"lat":22.5,"v":0.009,"s":"f"},{"lat":25,"v":0.012,"s":"f"},{"lat":27.5,"v":0.006,"s":"f"},{"lat":30,"v":0.013,"s":"f"},{"lat":32.5,"v":0.033,"s":"f"},{"lat":35,"v":0.022,"s":"f"},{"lat":37.5,"v":-0.036,"s":"f"},{"lat":40,"v":-0.094,"s":"f"},{"lat":42.5,"v":-0.113,"s":"f"},{"lat":45,"v":-0.067,"s":"f"},{"lat":47.5,"v":-0.024,"s":"f"},{"lat":50,"v":-0.018,"s":"f"},{"lat":52.5,"v":-0.031,"s":"f"},{"lat":55,"v":0.022,"s":"f"},{"lat":57.5,"v":0.12,"s":"f"},{"lat":60,"v":0.178,"s":"f"},{"lat":62.5,"v":0.13,"s":"f"},{"lat":65,"v":0.065,"s":"f"},{"lat":67.5,"v":0.055,"s":"f"},{"lat":70,"v":0.06,"s":"f"},{"lat":72.5,"v":0.037,"s":"f"},{"lat":75,"v":-0.014,"s":"f"},{"lat":77.5,"v":-0.07,"s":"f"},
{"lat":12.5,"v":0.003,"s":"e"},{"lat":15,"v":-0.011,"s":"e"},{"lat":17.5,"v":-0.017,"s":"e"},{"lat":20,"v":-0.012,"s":"e"},{"lat":22.5,"v":0.0,"s":"e"},{"lat":25,"v":0.005,"s":"e"},{"lat":27.5,"v":-0.001,"s":"e"},{"lat":30,"v":0.003,"s":"e"},{"lat":32.5,"v":0.01,"s":"e"},{"lat":35,"v":-0.005,"s":"e"},{"lat":37.5,"v":-0.055,"s":"e"},{"lat":40,"v":-0.108,"s":"e"},{"lat":42.5,"v":-0.111,"s":"e"},{"lat":45,"v":-0.058,"s":"e"},{"lat":47.5,"v":-0.017,"s":"e"},{"lat":50,"v":-0.022,"s":"e"},{"lat":52.5,"v":-0.03,"s":"e"},{"lat":55,"v":0.022,"s":"e"},{"lat":57.5,"v":0.13,"s":"e"},{"lat":60,"v":0.201,"s":"e"},{"lat":62.5,"v":0.187,"s":"e"},{"lat":65,"v":0.14,"s":"e"},{"lat":67.5,"v":0.133,"s":"e"},{"lat":70,"v":0.146,"s":"e"},{"lat":72.5,"v":0.122,"s":"e"},{"lat":75,"v":0.067,"s":"e"},{"lat":77.5,"v":0.024,"s":"e"}
 ],
 "blab":[{"t":"EOF1","lat":47,"v":0.122},{"t":"forcing","lat":58.8,"v":-0.022}]
},
"vconcat":[
 {
  "width":470,"height":360,
  "title":{"text":"a) stationary eddies (u'v' & EP flux)","dx":-38,"offset":0},
  "layer":[
   {"data":{"name":"cont"},"transform":[{"filter":"datum.lvl > 0 && datum.cl == 0"}],
    "mark":{"type":"line","interpolate":"cardinal","color":"black","strokeWidth":1.5,"clip":true},
    "encoding":{
     "x":{"field":"lat","type":"quantitative","title":null,"scale":{"domain":[10,80],"nice":false,"zero":false},
          "axis":{"values":[10,15,20,25,30,35,40,45,50,55,60,65,70,75,80],"tickCount":40,"labelExpr":"datum.value % 10 == 0 ? (datum.value == 80 ? '80' : datum.value + 'N') : ''","labelPadding":-2,"labelOverlap":false,"labelSeparation":0}},
     "y":{"field":"p","type":"quantitative","title":null,"scale":{"domain":[100,1000],"reverse":true,"nice":false,"zero":false},
          "axis":{"values":[100,200,300,400,500,600,700,800,900,1000],"tickCount":40,"format":"d","labelPadding":1,"labelOverlap":false,"labelSeparation":0}},
     "detail":{"field":"id"},"order":{"field":"i","type":"quantitative"}}},
   {"data":{"name":"cont"},"transform":[{"filter":"datum.lvl > 0 && datum.cl == 1"}],
    "mark":{"type":"line","interpolate":"cardinal-closed","color":"black","strokeWidth":1.5,"clip":true},
    "encoding":{"x":{"field":"lat","type":"quantitative","scale":{"domain":[10,80]}},"y":{"field":"p","type":"quantitative","scale":{"domain":[100,1000],"reverse":true}},"detail":{"field":"id"},"order":{"field":"i","type":"quantitative"}}},
   {"data":{"name":"cont"},"transform":[{"filter":"datum.lvl < 0 && datum.cl == 0"}],
    "mark":{"type":"line","interpolate":"cardinal","color":"black","strokeWidth":1.4,"strokeDash":[5,3],"clip":true},
    "encoding":{"x":{"field":"lat","type":"quantitative","scale":{"domain":[10,80]}},"y":{"field":"p","type":"quantitative","scale":{"domain":[100,1000],"reverse":true}},"detail":{"field":"id"},"order":{"field":"i","type":"quantitative"}}},
   {"data":{"name":"cont"},"transform":[{"filter":"datum.lvl < 0 && datum.cl == 1"}],
    "mark":{"type":"line","interpolate":"cardinal-closed","color":"black","strokeWidth":1.4,"strokeDash":[5,3],"clip":true},
    "encoding":{"x":{"field":"lat","type":"quantitative","scale":{"domain":[10,80]}},"y":{"field":"p","type":"quantitative","scale":{"domain":[100,1000],"reverse":true}},"detail":{"field":"id"},"order":{"field":"i","type":"quantitative"}}},
   {"data":{"name":"cont"},"transform":[{"filter":"datum.lvl == 0"}],
    "mark":{"type":"line","interpolate":"cardinal","color":"black","strokeWidth":2.8,"clip":true},
    "encoding":{"x":{"field":"lat","type":"quantitative","scale":{"domain":[10,80]}},"y":{"field":"p","type":"quantitative","scale":{"domain":[100,1000],"reverse":true}},"detail":{"field":"id"},"order":{"field":"i","type":"quantitative"}}},
   {"data":{"name":"vec"},
    "mark":{"type":"rule","color":"black","strokeWidth":1.9,"strokeCap":"round","clip":true},
    "encoding":{"x":{"field":"lat","type":"quantitative","scale":{"domain":[10,80]}},"y":{"field":"p","type":"quantitative","scale":{"domain":[100,1000],"reverse":true}},"x2":{"field":"lat2"},"y2":{"field":"p2"}}},
   {"data":{"name":"vec"},"transform":[{"filter":"datum.mag >= 4"}],
    "mark":{"type":"point","shape":"M-0.65,1L0,0L0.65,1","filled":false,"stroke":"black","strokeWidth":1.7,"opacity":1,"clip":true},
    "encoding":{"x":{"field":"lat2","type":"quantitative","scale":{"domain":[10,80]}},"y":{"field":"p2","type":"quantitative","scale":{"domain":[100,1000],"reverse":true}},
     "angle":{"field":"dir","type":"quantitative","scale":null},
     "size":{"field":"mag","type":"quantitative","scale":{"domain":[0,90],"range":[0,420]},"legend":null}}},
   {"data":{"name":"clab"},
    "mark":{"type":"text","font":"Liberation Sans","fontSize":12,"fontWeight":"bold","fill":"white","stroke":"white","strokeWidth":4,"clip":true},
    "encoding":{"x":{"field":"lat","type":"quantitative","scale":{"domain":[10,80]}},"y":{"field":"p","type":"quantitative","scale":{"domain":[100,1000],"reverse":true}},"text":{"field":"t"}}},
   {"data":{"name":"clab"},
    "mark":{"type":"text","font":"Liberation Sans","fontSize":12,"fontWeight":"bold","color":"black","clip":true},
    "encoding":{"x":{"field":"lat","type":"quantitative","scale":{"domain":[10,80]}},"y":{"field":"p","type":"quantitative","scale":{"domain":[100,1000],"reverse":true}},"text":{"field":"t"}}}
  ]
 },
 {
  "width":470,"height":257,
  "title":{"text":"b) vert. ave. forcing & EOF1 pattern","dx":-38,"offset":14},
  "layer":[
   {"data":{"name":"ser"},"transform":[{"filter":"datum.s == 'g'"}],
    "mark":{"type":"line","color":"#8a8a8a","strokeWidth":1},
    "encoding":{
     "x":{"field":"lat","type":"quantitative","title":null,"scale":{"domain":[10,80],"nice":false,"zero":false},
          "axis":{"values":[10,15,20,25,30,35,40,45,50,55,60,65,70,75,80],"tickCount":40,"labelExpr":"datum.value % 10 == 0 ? (datum.value == 80 ? '80' : datum.value + 'N') : ''","labelPadding":-2,"labelOverlap":false,"labelSeparation":0}},
     "y":{"field":"v","type":"quantitative","title":null,"scale":{"domain":[-0.15,0.2235],"nice":false,"zero":false},
          "axis":{"values":[-0.15,-0.1,-0.05,0,0.05,0.1,0.15,0.2],"tickCount":40,"labelExpr":"datum.value == 0 ? '0' : replace(format(datum.value, '.2~f'), '\u2212', '-')","labelPadding":6,"labelOverlap":false,"labelSeparation":0}}}},
   {"mark":{"type":"rule","color":"black","strokeWidth":1.2,"strokeDash":[5,3]},
    "encoding":{"y":{"datum":0,"type":"quantitative","scale":{"domain":[-0.15,0.2235]}}}},
   {"data":{"name":"ser"},"transform":[{"filter":"datum.s == 'g'"}],
    "mark":{"type":"point","shape":"circle","filled":true,"color":"#6a6a6a","stroke":"#444","strokeWidth":0.8,"size":34,"opacity":1},
    "encoding":{"x":{"field":"lat","type":"quantitative","scale":{"domain":[10,80]}},"y":{"field":"v","type":"quantitative","scale":{"domain":[-0.15,0.2235]}}}},
   {"data":{"name":"ser"},"transform":[{"filter":"datum.s == 'f'"}],
    "mark":{"type":"line","color":"black","strokeWidth":1.7},
    "encoding":{"x":{"field":"lat","type":"quantitative","scale":{"domain":[10,80]}},"y":{"field":"v","type":"quantitative","scale":{"domain":[-0.15,0.2235]}}}},
   {"data":{"name":"ser"},"transform":[{"filter":"datum.s == 'e'"}],
    "mark":{"type":"line","color":"black","strokeWidth":1.7},
    "encoding":{"x":{"field":"lat","type":"quantitative","scale":{"domain":[10,80]}},"y":{"field":"v","type":"quantitative","scale":{"domain":[-0.15,0.2235]}}}},
   {"data":{"name":"ser"},"transform":[{"filter":"datum.s == 'f'"}],
    "mark":{"type":"point","shape":"square","filled":true,"fill":"white","stroke":"black","strokeWidth":1.5,"size":85,"opacity":1},
    "encoding":{"x":{"field":"lat","type":"quantitative","scale":{"domain":[10,80]}},"y":{"field":"v","type":"quantitative","scale":{"domain":[-0.15,0.2235]}}}},
   {"data":{"name":"ser"},"transform":[{"filter":"datum.s == 'e'"}],
    "mark":{"type":"point","shape":"circle","filled":true,"fill":"white","stroke":"black","strokeWidth":1.5,"size":85,"opacity":1},
    "encoding":{"x":{"field":"lat","type":"quantitative","scale":{"domain":[10,80]}},"y":{"field":"v","type":"quantitative","scale":{"domain":[-0.15,0.2235]}}}},
   {"data":{"name":"blab"},
    "mark":{"type":"text","font":"Liberation Sans","fontSize":17,"color":"black"},
    "encoding":{"x":{"field":"lat","type":"quantitative","scale":{"domain":[10,80]}},"y":{"field":"v","type":"quantitative","scale":{"domain":[-0.15,0.2235]}},"text":{"field":"t"}}}
  ]
 }
]
}
